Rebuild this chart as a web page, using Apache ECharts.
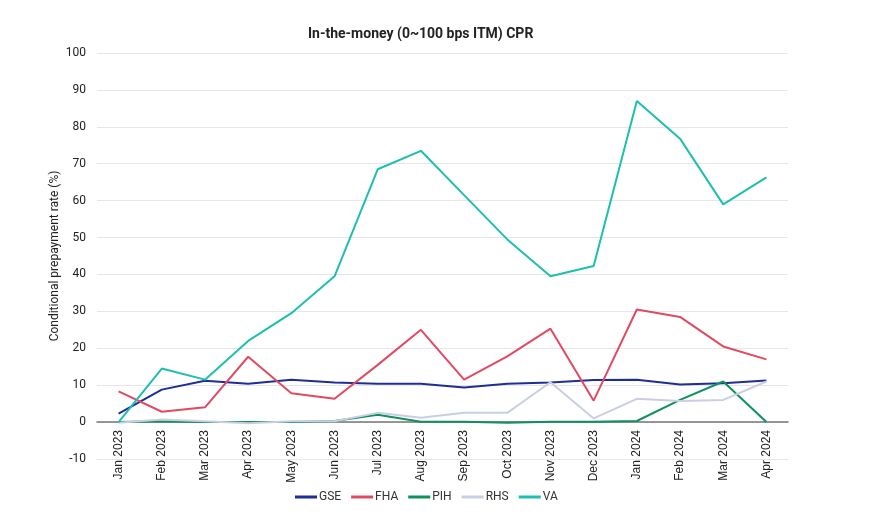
<!DOCTYPE html>
<html>
<head>
<meta charset="utf-8">
<script src="https://cdn.jsdelivr.net/npm/echarts@6/dist/echarts.min.js"></script>
<style>
  html, body { margin: 0; padding: 0; background: #fff; }
  #chart { width: 870px; height: 524px; }
</style>
</head>
<body>
<div id="chart"></div>
<script>
// months on the x axis
var months = ["Jan 2023", "Feb 2023", "Mar 2023", "Apr 2023", "May 2023", "Jun 2023", "Jul 2023", "Aug 2023",
  "Sep 2023", "Oct 2023", "Nov 2023", "Dec 2023", "Jan 2024", "Feb 2024", "Mar 2024", "Apr 2024"];

// CPR values (%)
var gse = [2.3, 8.8, 11.2, 10.4, 11.5, 10.7, 10.4, 10.4, 9.4, 10.4, 10.7, 11.4, 11.5, 10.2, 10.5, 11.3];
var fha = [8.3, 2.8, 4.0, 17.7, 7.8, 6.3, 15.5, 25.0, 11.5, 17.8, 25.3, 5.8, 30.5, 28.5, 20.5, 17.0];
var pih = [0, 0.2, 0, 0, 0, 0.3, 2.0, 0.1, 0.1, -0.2, 0.1, 0.1, 0.3, 6.0, 11.0, 0];
var rhs = [-0.2, 0.7, 0.2, -0.3, 0.2, 0.2, 2.5, 1.2, 2.5, 2.5, 10.8, 1.0, 6.3, 5.7, 6.0, 11.0];
var va = [0, 14.5, 11.5, 22.0, 29.5, 39.5, 68.5, 73.5, 61.5, 49.5, 39.5, 42.3, 87.0, 76.8, 59.0, 66.3];

var names = ["GSE", "FHA", "PIH", "RHS", "VA"];
var colors = ["#1f2d96", "#e04a63", "#10905c", "#c9cee3", "#1dbfae"];
var values = [gse, fha, pih, rhs, va];

var myChart = echarts.init(document.getElementById("chart"));
var series = names.map(function (n, i) {
  return {
    name: n,
    type: "line",
    data: values[i],
    symbol: "none",
    lineStyle: { width: 2, color: colors[i] },
    itemStyle: { color: colors[i] }
  };
});

var option = {
  animation: false,
  textStyle: { fontFamily: "Roboto" },
  title: {
    text: "In-the-money (0~100 bps ITM) CPR",
    left: 303,
    top: 22,
    textStyle: { fontSize: 14, fontWeight: "bold", color: "#222" }
  },
  legend: {
    data: names,
    left: 290,
    bottom: 16,
    icon: "rect",
    itemWidth: 22,
    itemHeight: 3,
    itemGap: 10,
    textStyle: { fontSize: 12, color: "#333", padding: [0, 0, 0, -3] }
  },
  grid: { left: 97, right: 82, top: 53, bottom: 65 },
  xAxis: {
    type: "category",
    data: months,
    boundaryGap: true,
    axisLine: { onZero: true, lineStyle: { color: "#777", width: 1.5 } },
    axisTick: { show: false },
    axisLabel: { rotate: 90, fontSize: 12, color: "#222", interval: 0, margin: -29, fontFamily: "Liberation Sans" }
  },
  yAxis: {
    type: "value",
    min: -10,
    max: 100,
    interval: 10,
    name: "Conditional prepayment rate (%)",
    nameLocation: "middle",
    nameGap: 36,
    nameMoveOverlap: false,
    nameTextStyle: { fontSize: 12, color: "#222" },
    axisLine: { show: false },
    axisTick: { show: false },
    axisLabel: { fontSize: 12, color: "#222", margin: 11 },
    splitLine: { lineStyle: { color: "#e6e6e6" } }
  },
  series: series
};
myChart.setOption(option);
</script>
</body>
</html>
